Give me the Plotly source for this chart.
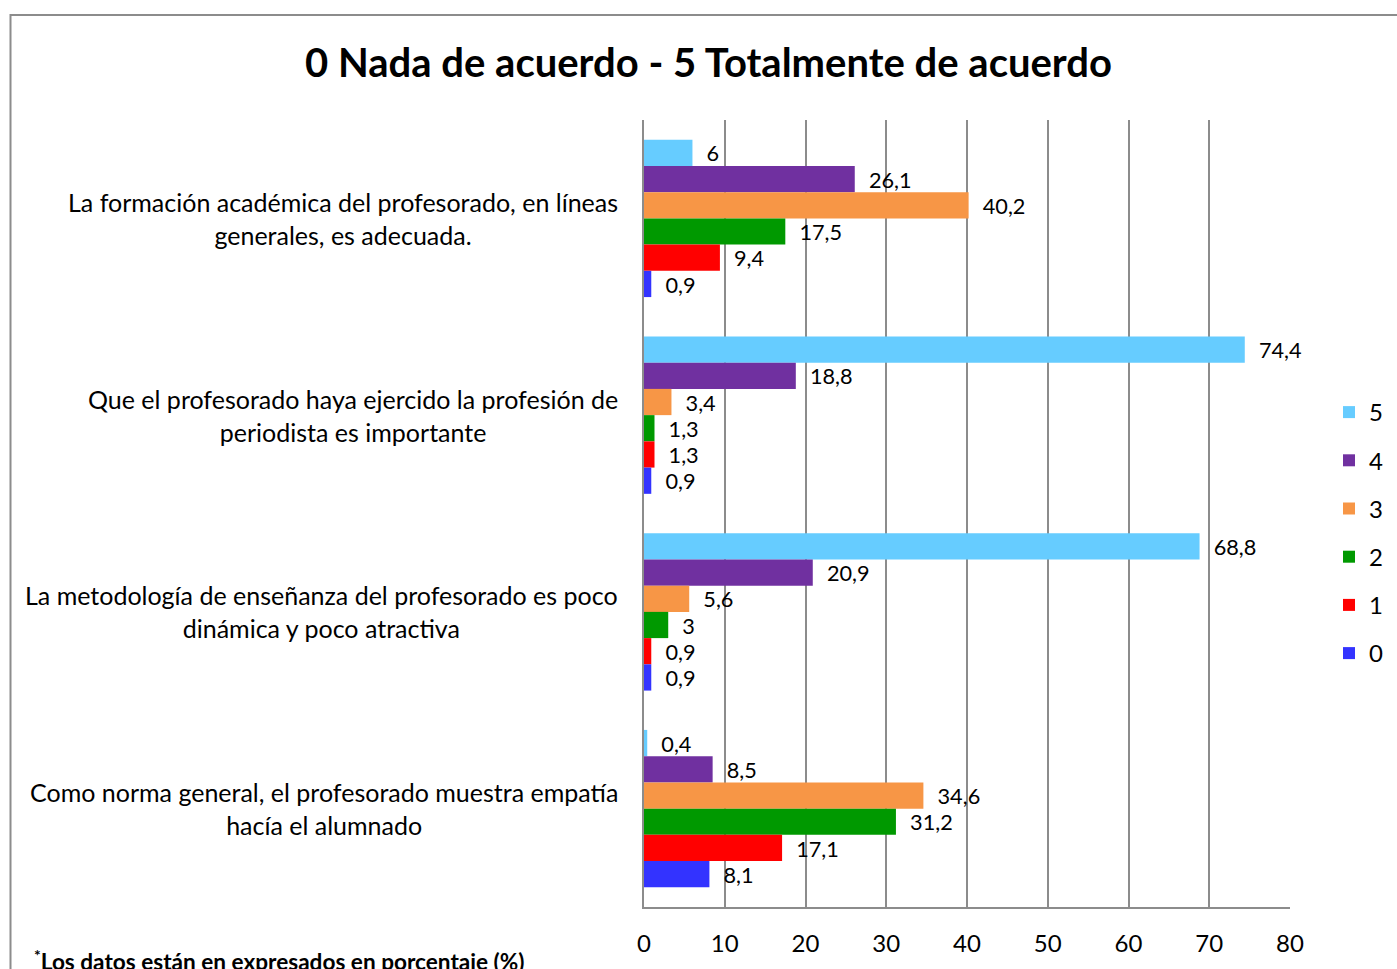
import plotly.graph_objects as go

categories = [
    "La formación académica del profesorado, en líneas<br>generales, es adecuada.",
    "Que el profesorado haya ejercido la profesión de<br>periodista es importante",
    "La metodología de enseñanza del profesorado es poco<br>dinámica y poco atractiva",
    "Como norma general, el profesorado muestra empatía<br>hacía el alumnado",
]
cat_ids = ["c1", "c2", "c3", "c4"]

series_names = ["5", "4", "3", "2", "1", "0"]
series_colors = ["#66CCFF", "#7030A0", "#F79646", "#009900", "#FF0000", "#3333FF"]
values_5 = [6, 74.4, 68.8, 0.4]
values_4 = [26.1, 18.8, 20.9, 8.5]
values_3 = [40.2, 3.4, 5.6, 34.6]
values_2 = [17.5, 1.3, 3, 31.2]
values_1 = [9.4, 1.3, 0.9, 17.1]
values_0 = [0.9, 0.9, 0.9, 8.1]
series_values = [values_5, values_4, values_3, values_2, values_1, values_0]

x_ticks = [0, 10, 20, 30, 40, 50, 60, 70, 80]

title_text = "0 Nada de acuerdo - 5 Totalmente de acuerdo"
footnote = "<sup>*</sup>Los datos están en expresados en porcentaje (%)"

FONT = "Lato"

def fmt(v):
    return f"{v:g}".replace(".", ",")

fig = go.Figure()
for i, (name, color, vals) in enumerate(zip(series_names, series_colors, series_values)):
    fig.add_trace(go.Bar(
        y=cat_ids, x=vals, orientation="h", name=name,
        marker=dict(color=color, line=dict(width=0)),
        text=[fmt(v) for v in vals],
        texttemplate="\u00a0\u00a0%{text}",
        textposition="outside",
        textfont=dict(family=FONT, size=24, color="black"),
        cliponaxis=False,
        legendgroup=name,
    ))

L, R, T, B = 644, 107, 120, 62
W, H = 1397, 969
pw = W - L - R
ph = H - T - B

def px_x(p):
    return (p - L) / pw

def px_y(p):
    return (H - B - p) / ph

annotations = []
for cid, label in zip(cat_ids, categories):
    annotations.append(dict(
        x=px_x(620), xref="paper", y=cid, yref="y",
        text=label, showarrow=False, xanchor="right", yanchor="middle",
        align="center", font=dict(family=FONT, size=25, color="black"),
    ))
annotations.append(dict(
    x=px_x(32), xref="paper", y=px_y(960), yref="paper",
    text="<b>" + footnote + "</b>", showarrow=False, xanchor="left", yanchor="middle",
    font=dict(family=FONT, size=22.6, color="black"),
))

fig.update_layout(
    width=W, height=H,
    margin=dict(l=L, r=R, t=T, b=B, autoexpand=False),
    paper_bgcolor="white", plot_bgcolor="white",
    title=dict(text="<b>" + title_text + "</b>", x=708.5 / W, xref="container", xanchor="center",
               y=1 - 63 / H, yref="container", yanchor="middle",
               font=dict(family=FONT, size=40, color="black")),
    barmode="group", bargap=0.2, bargroupgap=0,
    showlegend=True,
    legend=dict(x=px_x(1329), y=px_y(533), xanchor="left", yanchor="middle",
                font=dict(family=FONT, size=24, color="black"),
                tracegroupgap=14, traceorder="grouped", itemwidth=30),
    xaxis=dict(range=[0, 80], tickvals=x_ticks, ticktext=[str(t) for t in x_ticks],
               showgrid=True, gridcolor="#8C8C8C", gridwidth=2,
               showline=True, linecolor="#8C8C8C", linewidth=2,
               zeroline=False, ticks="", ticklabelstandoff=14,
               tickfont=dict(family=FONT, size=24, color="black")),
    yaxis=dict(categoryorder="array", categoryarray=cat_ids, autorange="reversed",
               showticklabels=False, showgrid=False, zeroline=False,
               showline=True, linecolor="#8C8C8C", linewidth=2, ticks=""),
    annotations=annotations,
    shapes=[dict(type="rect", xref="paper", yref="paper",
                 x0=px_x(10.5), x1=px_x(1500), y0=px_y(1100), y1=px_y(15),
                 line=dict(color="#8C8C8C", width=2), fillcolor="rgba(0,0,0,0)", layer="below")],
    font=dict(family=FONT),
)

fig.write_html("out.html")
